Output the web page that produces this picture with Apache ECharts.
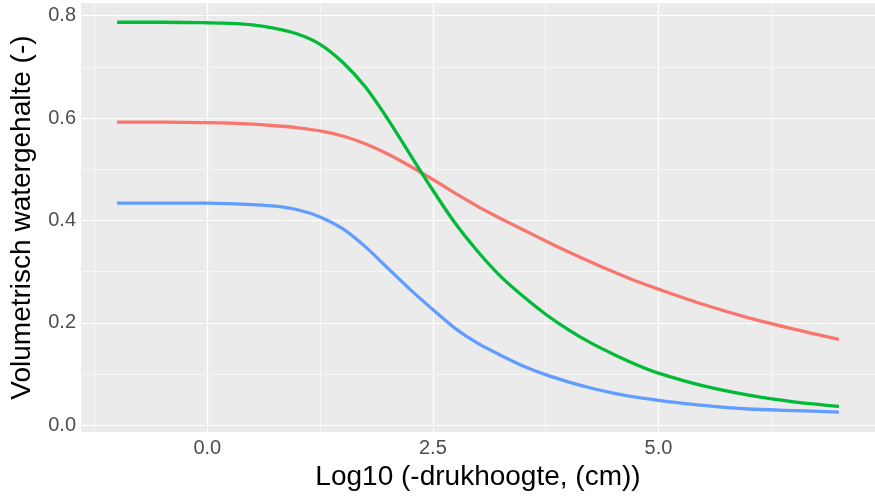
<!DOCTYPE html>
<html>
<head>
<meta charset="utf-8">
<script src="https://cdn.jsdelivr.net/npm/echarts@6/dist/echarts.min.js"></script>
<style>
html,body{margin:0;padding:0;background:#fff;}
#chart{width:875px;height:496px;}
</style>
</head>
<body>
<div id="chart"></div>
<script>
// log10(-pressure head, cm)
const xValues = [-1, -0.5, 0, 0.25, 0.5, 0.75, 1, 1.25, 1.5, 1.75, 2, 2.25, 2.5, 2.75, 3, 3.25, 3.5, 3.75, 4, 4.25, 4.5, 4.75, 5, 5.5, 6, 6.5, 7];
const redSeries = [0.592, 0.592, 0.591, 0.590, 0.588, 0.585, 0.581, 0.575, 0.565, 0.550, 0.530, 0.506, 0.480, 0.453, 0.427, 0.404, 0.382, 0.360, 0.339, 0.319, 0.300, 0.282, 0.266, 0.236, 0.210, 0.188, 0.168];
const greenSeries = [0.787, 0.787, 0.786, 0.785, 0.782, 0.775, 0.764, 0.744, 0.709, 0.661, 0.598, 0.528, 0.459, 0.394, 0.339, 0.291, 0.252, 0.217, 0.187, 0.161, 0.139, 0.119, 0.102, 0.077, 0.059, 0.046, 0.037];
const blueSeries = [0.434, 0.434, 0.434, 0.433, 0.431, 0.428, 0.421, 0.407, 0.384, 0.349, 0.307, 0.265, 0.226, 0.189, 0.160, 0.137, 0.116, 0.099, 0.085, 0.073, 0.063, 0.055, 0.049, 0.039, 0.032, 0.029, 0.026];
const xMajorTicks = [0, 2.5, 5];
const xMinorGrid = [-1.25, 1.25, 3.75, 6.25];
const yMajorTicks = [0, 0.2, 0.4, 0.6, 0.8];
const yMinorGrid = [0.1, 0.3, 0.5, 0.7];
const xTitle = 'Log10 (-drukhoogte, (cm))';
const yTitle = 'Volumetrisch watergehalte (-)';

const pair = ys => xValues.map((x, i) => [x, ys[i]]);
const font = 'Liberation Sans, Arial, sans-serif';

const gridLines = [];
xMinorGrid.forEach(v => gridLines.push({xAxis: v, lineStyle: {width: 0.6}}));
yMinorGrid.forEach(v => gridLines.push({yAxis: v, lineStyle: {width: 0.6}}));
xMajorTicks.forEach(v => gridLines.push({xAxis: v, lineStyle: {width: 1.2}}));
yMajorTicks.forEach(v => gridLines.push({yAxis: v, lineStyle: {width: 1.2}}));

function curve(data, color) {
  return {
    type: 'line', data: data, showSymbol: false, smooth: 0.3,
    lineStyle: {color: color, width: 3.3}, z: 20, silent: true
  };
}

const chart = echarts.init(document.getElementById('chart'), null, {renderer: 'canvas'});
chart.setOption({
  animation: false,
  backgroundColor: '#ffffff',
  grid: {left: 81, top: 3, width: 799, height: 432, show: true, backgroundColor: '#EBEBEB', borderWidth: 0},
  xAxis: {
    type: 'value', min: -1.4, max: 7.4,
    axisLine: {show: false},
    splitLine: {show: false},
    axisTick: {show: true, customValues: xMajorTicks, length: 4, lineStyle: {color: '#333333', width: 1.1}},
    axisLabel: {customValues: xMajorTicks, color: '#4D4D4D', fontSize: 20, fontFamily: font, margin: 6,
      formatter: v => v.toFixed(1)},
    name: xTitle, nameLocation: 'middle', nameGap: 29,
    nameTextStyle: {color: '#000', fontSize: 28, fontFamily: font}
  },
  yAxis: {
    type: 'value', min: -0.0131, max: 0.8246,
    axisLine: {show: false},
    splitLine: {show: false},
    axisTick: {show: true, customValues: yMajorTicks, length: 4, lineStyle: {color: '#333333', width: 1.1}},
    axisLabel: {customValues: yMajorTicks, color: '#4D4D4D', fontSize: 20, fontFamily: font, margin: 5,
      formatter: v => v.toFixed(1)},
    name: yTitle, nameLocation: 'middle', nameGap: 45, nameRotate: 90,
    nameTextStyle: {color: '#000', fontSize: 28, fontFamily: font}
  },
  series: [
    {
      type: 'line', data: [], z: 1, silent: true,
      markLine: {silent: true, z: 1, symbol: ['none', 'none'], label: {show: false}, animation: false,
        lineStyle: {color: '#ffffff', type: 'solid'}, emphasis: {disabled: true},
        data: gridLines}
    },
    curve(pair(redSeries), '#F8766D'),
    curve(pair(greenSeries), '#00BA38'),
    curve(pair(blueSeries), '#619CFF')
  ]
});
</script>
</body>
</html>
